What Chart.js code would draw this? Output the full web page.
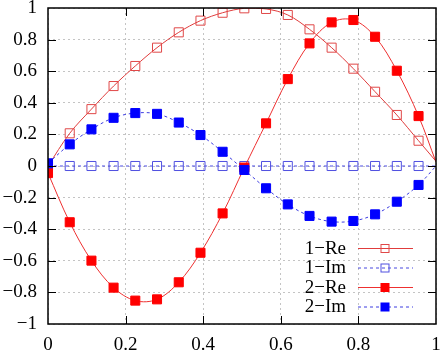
<!DOCTYPE html>
<html>
<head>
<meta charset="utf-8">
<script src="https://cdn.jsdelivr.net/npm/chart.js@4/dist/chart.umd.min.js"></script>
<style>
  html, body { margin: 0; padding: 0; background: #fff; }
  canvas { display: block; }
</style>
</head>
<body>
<canvas id="modeChart" width="444" height="353"></canvas>
<script>
// sample positions (last one is the curve end at x = 1, no marker there)
const xs = [0, 0.056, 0.112, 0.169, 0.225, 0.281, 0.337, 0.393, 0.450, 0.506,
            0.562, 0.618, 0.674, 0.731, 0.787, 0.843, 0.899, 0.955, 1];

const re1 = [0, 0.207, 0.36, 0.506, 0.633, 0.749, 0.846, 0.92, 0.97, 0.998,
             0.994, 0.956, 0.865, 0.749, 0.616, 0.47, 0.323, 0.16, 0.03];
const im1 = [0, 0, 0, 0, 0, 0, 0, 0, 0, 0,
             0, 0, 0, 0, 0, 0, 0, 0, 0];
const re2 = [-0.045, -0.356, -0.599, -0.77, -0.852, -0.844, -0.736, -0.549, -0.30, -0.01,
             0.27, 0.55, 0.776, 0.909, 0.924, 0.818, 0.603, 0.316, 0.025];
const im2 = [0.017, 0.137, 0.232, 0.305, 0.335, 0.33, 0.275, 0.196, 0.09, -0.025,
             -0.141, -0.243, -0.316, -0.352, -0.348, -0.306, -0.226, -0.12, 0];

const seriesLabels = ['1\u2212Re', '1\u2212Im', '2\u2212Re', '2\u2212Im'];
const xTicks = [0, 0.2, 0.4, 0.6, 0.8, 1];
const yTicks = [-1, -0.8, -0.6, -0.4, -0.2, 0, 0.2, 0.4, 0.6, 0.8, 1];

const toPts = (ys) => xs.map((x, i) => ({ x: x, y: ys[i] }));
const markRadius = xs.map((x, i) => (i < xs.length - 1 ? 6.4 : 0));
const fmt = (v) => {
  const r = Math.round(v * 10) / 10;
  return String(r).replace('-', '\u2212');
};

const FAMILY = '"Liberation Serif", "Times New Roman", serif';
const FSIZE = 19;
Chart.defaults.font.family = FAMILY;
Chart.defaults.font.size = FSIZE;
Chart.defaults.color = '#000';

const common = {
  showLine: true,
  borderWidth: 1,
  tension: 0.35,
  pointStyle: 'rect',
  pointRadius: markRadius,
  pointHoverRadius: markRadius,
  pointBorderWidth: 1,
};

const datasets = [
  Object.assign({}, common, {
    label: seriesLabels[0],
    data: toPts(re1),
    borderColor: '#e03c3c',
    pointBorderColor: '#e04848',
    pointBackgroundColor: 'rgba(0,0,0,0)',
    filled: false,
    order: 4,
  }),
  Object.assign({}, common, {
    label: seriesLabels[1],
    data: toPts(im1),
    borderColor: '#4848e0',
    borderDash: [3, 3],
    pointBorderColor: '#5050e0',
    pointBackgroundColor: 'rgba(0,0,0,0)',
    filled: false,
    order: 3,
  }),
  Object.assign({}, common, {
    label: seriesLabels[2],
    data: toPts(re2),
    borderColor: '#ee3030',
    pointBorderColor: '#ff0000',
    pointBackgroundColor: '#ff0000',
    filled: true,
    order: 2,
  }),
  Object.assign({}, common, {
    label: seriesLabels[3],
    data: toPts(im2),
    borderColor: '#3c3ce0',
    borderDash: [3, 3],
    pointBorderColor: '#0000ff',
    pointBackgroundColor: '#0000ff',
    filled: true,
    order: 1,
  }),
];

// frame, inward tick marks (gnuplot style) and the in-plot legend
const framePlugin = {
  id: 'frame',
  afterDraw(chart) {
    const { ctx, chartArea: a, scales } = chart;
    const sx = scales.x, sy = scales.y;
    ctx.save();
    ctx.strokeStyle = '#000';
    ctx.lineWidth = 1;
    ctx.setLineDash([]);
    ctx.beginPath();
    xTicks.forEach((v) => {
      if (v <= 0 || v >= 1) return;
      const px = Math.round(sx.getPixelForValue(v)) + 0.5;
      ctx.moveTo(px, a.bottom); ctx.lineTo(px, a.bottom - 8);
      ctx.moveTo(px, a.top); ctx.lineTo(px, a.top + 8);
    });
    yTicks.forEach((v) => {
      if (v <= -1 || v >= 1) return;
      const py = Math.round(sy.getPixelForValue(v)) + 0.5;
      ctx.moveTo(a.left, py); ctx.lineTo(a.left + 8, py);
      ctx.moveTo(a.right, py); ctx.lineTo(a.right - 8, py);
    });
    ctx.stroke();
    ctx.lineWidth = 1.5;
    ctx.strokeRect(a.left, a.top, a.right - a.left, a.bottom - a.top);

    // legend
    const textRight = 346, lineL = 358, lineR = 413, markX = 385;
    const rowY = [248, 267.5, 287, 306.5];
    ctx.font = FSIZE + 'px ' + FAMILY;
    ctx.textAlign = 'right';
    ctx.textBaseline = 'middle';
    chart.data.datasets.forEach((ds, i) => {
      const y = rowY[i];
      ctx.fillStyle = '#000';
      ctx.fillText(ds.label, textRight, y + 1);
      ctx.strokeStyle = ds.borderColor;
      ctx.lineWidth = 1;
      ctx.setLineDash(ds.borderDash || []);
      ctx.beginPath();
      ctx.moveTo(lineL, y + 0.5); ctx.lineTo(lineR, y + 0.5);
      ctx.stroke();
      ctx.setLineDash([]);
      if (ds.filled) {
        ctx.fillStyle = ds.pointBackgroundColor;
        ctx.fillRect(markX - 4.5, y - 4, 9, 9);
      } else {
        ctx.strokeStyle = ds.pointBorderColor;
        ctx.strokeRect(markX - 4, y - 3.5, 8, 8);
      }
    });
    ctx.restore();
  },
};

new Chart(document.getElementById('modeChart').getContext('2d'), {
  type: 'scatter',
  data: { datasets: datasets },
  plugins: [framePlugin],
  options: {
    responsive: false,
    animation: false,
    events: [],
    layout: { padding: { top: 8, right: 8, left: 0, bottom: 0 } },
    plugins: {
      legend: { display: false },
      tooltip: { enabled: false },
    },
    scales: {
      x: {
        type: 'linear',
        min: 0,
        max: 1,
        afterBuildTicks: (s) => { s.ticks = xTicks.map((v) => ({ value: v })); },
        ticks: { callback: (v) => fmt(v), padding: 10, maxRotation: 0, font: { family: FAMILY, size: FSIZE } },
        grid: { color: '#c4c4c4', lineWidth: 1, drawTicks: false },
        border: { display: false, dash: [2, 3] },
        afterFit: (s) => { s.height = 29; s.paddingLeft = 0; s.paddingRight = 0; },
      },
      y: {
        type: 'linear',
        min: -1,
        max: 1,
        afterBuildTicks: (s) => { s.ticks = yTicks.map((v) => ({ value: v })); },
        ticks: { callback: (v) => fmt(v), padding: 11, font: { family: FAMILY, size: FSIZE } },
        grid: { color: '#c4c4c4', lineWidth: 1, drawTicks: false },
        border: { display: false, dash: [2, 3] },
        afterFit: (s) => { s.width = 48; s.paddingTop = 0; s.paddingBottom = 0; },
      },
    },
  },
});
</script>
</body>
</html>
